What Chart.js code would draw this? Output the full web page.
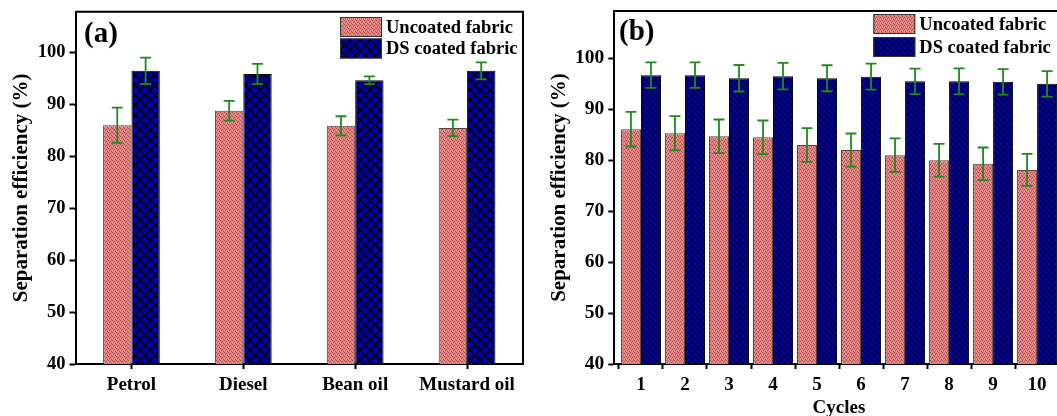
<!DOCTYPE html>
<html>
<head>
<meta charset="utf-8">
<script src="https://cdn.jsdelivr.net/npm/chart.js@4"></script>
<style>
html,body{margin:0;padding:0;background:#fff;overflow:hidden;width:1057px;height:416px;}
#wrap{position:relative;width:1057px;height:416px;overflow:hidden;}
#ca{position:absolute;left:0;top:0;}
#cb{position:absolute;left:530px;top:0;}
</style>
</head>
<body>
<div id="wrap">
<canvas id="ca" width="530" height="416"></canvas>
<canvas id="cb" width="545" height="416"></canvas>
</div>
<script>
// ---- data ----
const categoriesA = ['Petrol', 'Diesel', 'Bean oil', 'Mustard oil'];
const uncoatedA = [86.0, 88.8, 85.9, 85.5];
const uncoatedAErr = [3.4, 1.9, 1.85, 1.6];
const coatedA = [96.5, 95.9, 94.7, 96.5];
const coatedAErr = [2.55, 1.95, 0.75, 1.65];

const cyclesB = [1, 2, 3, 4, 5, 6, 7, 8, 9, 10];
const uncoatedB = [86.1, 85.3, 84.7, 84.5, 83.0, 82.0, 81.0, 80.0, 79.3, 78.1];
const uncoatedBErr = [3.4, 3.35, 3.3, 3.3, 3.3, 3.25, 3.3, 3.2, 3.2, 3.15];
const coatedB = [96.7, 96.7, 96.1, 96.5, 96.1, 96.4, 95.5, 95.5, 95.4, 95.0];
const coatedBErr = [2.5, 2.5, 2.6, 2.6, 2.55, 2.55, 2.5, 2.55, 2.5, 2.5];

const yTicks = [40, 50, 60, 70, 80, 90, 100];
const seriesLabels = ['Uncoated fabric', 'DS coated fabric'];
const panelLabels = ['(a)', '(b)'];
const yTitle = 'Separation efficiency (%)';
const xTitleB = 'Cycles';

// ---- styling ----
const FONT = '"Liberation Serif", "Times New Roman", serif';
Chart.defaults.font.family = FONT;
Chart.defaults.font.weight = 'bold';
Chart.defaults.color = '#000';

function dotPattern() {
  const c = document.createElement('canvas'); c.width = 4; c.height = 4;
  const g = c.getContext('2d');
  g.fillStyle = '#E38080'; g.fillRect(0, 0, 4, 4);
  g.fillStyle = '#B84848';
  [[0,0],[2,1],[1,2],[3,3]].forEach(p => g.fillRect(p[0], p[1], 1, 1));
  g.fillStyle = '#EFA2A2';
  [[2,3],[0,2]].forEach(p => g.fillRect(p[0], p[1], 1, 1));
  return g.createPattern(c, 'repeat');
}
function hatchPattern(s, lw, bg, fg) {
  const c = document.createElement('canvas'); c.width = s; c.height = s;
  const g = c.getContext('2d');
  g.fillStyle = bg; g.fillRect(0, 0, s, s);
  g.strokeStyle = fg; g.lineWidth = lw;
  g.beginPath();
  for (let k = -1; k <= 1; k++) {
    g.moveTo(-s, -s + k * s); g.lineTo(2 * s, 2 * s + k * s);
    g.moveTo(-s, 2 * s + k * s); g.lineTo(2 * s, -s + k * s);
  }
  g.stroke();
  return g.createPattern(c, 'repeat');
}

const pinkPat = dotPattern();
const navyPatA = hatchPattern(10, 1.6, '#0000B0', '#000010');
const navyPatB = hatchPattern(6, 1.0, '#00009E', '#000020');

// ---- plugins ----
const errorBars = {
  id: 'errorBars',
  afterDatasetsDraw(chart, args, opts) {
    const ctx = chart.ctx, y = chart.scales.y;
    ctx.save();
    ctx.strokeStyle = '#1F8A1F';
    ctx.lineWidth = 1.8;
    chart.data.datasets.forEach((ds, di) => {
      const meta = chart.getDatasetMeta(di);
      meta.data.forEach((el, i) => {
        const v = ds.values[i];
        const e = ds.errors[i];
        const yt = y.getPixelForValue(v + e), yb = y.getPixelForValue(v - e);
        const x = el.x, cw = opts.cap / 2;
        ctx.beginPath();
        ctx.moveTo(x, yt); ctx.lineTo(x, yb);
        ctx.moveTo(x - cw, yt); ctx.lineTo(x + cw, yt);
        ctx.moveTo(x - cw, yb); ctx.lineTo(x + cw, yb);
        ctx.stroke();
      });
    });
    ctx.restore();
  }
};

const frame = {
  id: 'frame',
  afterDraw(chart, args, opts) {
    const ctx = chart.ctx, a = chart.chartArea;
    ctx.save();
    ctx.strokeStyle = '#000'; ctx.lineWidth = 2;
    ctx.beginPath();
    ctx.moveTo(a.left, a.top); ctx.lineTo(a.right, a.top); ctx.lineTo(a.right, a.bottom);
    ctx.stroke();
    // panel label
    ctx.fillStyle = '#000';
    ctx.font = 'bold ' + opts.labelSize + 'px ' + FONT;
    ctx.textBaseline = 'alphabetic'; ctx.textAlign = 'left';
    ctx.fillText(opts.label, opts.lx, opts.ly);
    // legend
    const L = opts.legend;
    chart.data.datasets.forEach((ds, i) => {
      const by = L.y + i * L.step;
      ctx.fillStyle = ds.backgroundColor;
      ctx.fillRect(L.x, by, L.w, L.h);
      ctx.strokeStyle = '#333'; ctx.lineWidth = 1;
      ctx.strokeRect(L.x + 0.5, by + 0.5, L.w - 1, L.h - 1);
      ctx.fillStyle = '#000';
      ctx.font = 'bold ' + L.size + 'px ' + FONT;
      ctx.textBaseline = 'middle';
      ctx.fillText(ds.label, L.x + L.w + 4, by + L.h / 2 + 1);
    });
    ctx.restore();
  }
};

function fixY(w) {
  return function (s) { s.width = w; s.paddingTop = 0; s.paddingBottom = 0; s.paddingLeft = 0; s.paddingRight = 0; };
}
function fixX(h) {
  return function (s) { s.height = h; s.paddingTop = 0; s.paddingBottom = 0; s.paddingLeft = 0; s.paddingRight = 0; };
}
function yScale(max, width, tickSize, titlePad) {
  return {
    type: 'linear', position: 'left', min: 40, max: max,
    afterBuildTicks: s => { s.ticks = yTicks.map(v => ({ value: v })); },
    afterFit: fixY(width),
    grid: { drawOnChartArea: false, drawTicks: true, tickLength: 6, tickWidth: 2, tickColor: '#000' },
    border: { display: true, color: '#000', width: 2 },
    ticks: { padding: 4, font: { size: tickSize, weight: 'bold' }, color: '#000' },
    title: { display: true, text: yTitle, font: { size: 21, weight: 'bold' }, color: '#000', padding: { top: titlePad, bottom: 0 } }
  };
}

// ---- chart (a) ----
new Chart(document.getElementById('ca'), {
  type: 'bar',
  data: {
    labels: categoriesA,
    datasets: [
      { label: seriesLabels[0], data: uncoatedA, values: uncoatedA, errors: uncoatedAErr,
        backgroundColor: pinkPat, borderColor: '#5a4040', borderWidth: 1 },
      { label: seriesLabels[1], data: coatedA, values: coatedA, errors: coatedAErr,
        backgroundColor: navyPatA, borderColor: '#000', borderWidth: 1 }
    ]
  },
  options: {
    responsive: false, animation: false,
    layout: { padding: { top: 11.7, right: 7, bottom: 0, left: 0 } },
    datasets: { bar: { categoryPercentage: 0.507, barPercentage: 1.0 } },
    plugins: {
      legend: { display: false }, tooltip: { enabled: false },
      errorBars: { cap: 11 },
      frame: { label: panelLabels[0], labelSize: 29, lx: 84, ly: 42,
        legend: { x: 340, y: 17, w: 42, h: 20, step: 21.5, size: 18.5 } }
    },
    scales: {
      x: {
        type: 'category', offset: true,
        afterFit: fixX(52),
        grid: { offset: false, drawOnChartArea: false, drawTicks: true, tickLength: 5, tickWidth: 2, tickColor: '#000' },
        border: { display: true, color: '#000', width: 2 },
        ticks: { padding: 5, font: { size: 19, weight: 'bold' }, color: '#000', maxRotation: 0, autoSkip: false }
      },
      y: yScale(107.9, 75.5, 18.5, 9)
    }
  },
  plugins: [errorBars, frame]
});

// ---- chart (b) ----
new Chart(document.getElementById('cb'), {
  type: 'bar',
  data: {
    datasets: [
      { label: seriesLabels[0], data: cyclesB.map((c, i) => ({ x: c, y: uncoatedB[i] })), values: uncoatedB, errors: uncoatedBErr,
        backgroundColor: pinkPat, borderColor: '#5a4040', borderWidth: 1 },
      { label: seriesLabels[1], data: cyclesB.map((c, i) => ({ x: c, y: coatedB[i] })), values: coatedB, errors: coatedBErr,
        backgroundColor: navyPatB, borderColor: '#000', borderWidth: 1 }
    ]
  },
  options: {
    responsive: false, animation: false,
    layout: { padding: { top: 11, right: 11.5, bottom: 0, left: 0 } },
    datasets: { bar: { categoryPercentage: 0.91, barPercentage: 1.0 } },
    plugins: {
      legend: { display: false }, tooltip: { enabled: false },
      errorBars: { cap: 11 },
      frame: { label: panelLabels[1], labelSize: 29, lx: 89, ly: 40,
        legend: { x: 343.3, y: 14, w: 42, h: 20, step: 23, size: 18.5 } }
    },
    scales: {
      x: {
        type: 'linear', min: 0.394, max: 10.6, offset: false,
        afterBuildTicks: s => { s.ticks = cyclesB.map(v => ({ value: v })); },
        afterFit: fixX(52),
        grid: { drawOnChartArea: false, drawTicks: true, tickLength: 5, tickWidth: 2, tickColor: '#000' },
        border: { display: true, color: '#000', width: 2 },
        ticks: { padding: 5, font: { size: 19, weight: 'bold' }, color: '#000', maxRotation: 0, autoSkip: false,
          callback: v => String(v) },
        title: { display: true, text: xTitleB, font: { size: 19, weight: 'bold', lineHeight: 0.84 }, color: '#000', padding: 0 }
      },
      y: yScale(109.3, 84.3, 19.5, 17)
    }
  },
  plugins: [errorBars, frame]
});
</script>
</body>
</html>
